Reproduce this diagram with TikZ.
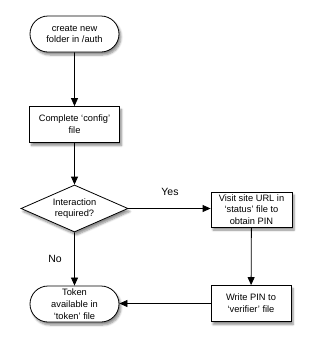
\documentclass[tikz,border=0pt]{standalone}
\usepackage{fontspec}
\setmainfont{Liberation Sans}
\usetikzlibrary{shapes.geometric,shapes.misc,arrows.meta,shadows.blur}
\begin{document}
\begin{tikzpicture}[x=1pt,y=-1pt,
  base/.style={draw=black,line width=0.8pt,fill=white,align=center,
    font=\fontsize{9.3}{11.8}\selectfont,inner sep=0pt,
    blur shadow={shadow xshift=2pt,shadow yshift=-3pt,shadow blur steps=6,shadow opacity=45}},
  terminal/.style={base,rounded rectangle,minimum width=89pt,minimum height=36pt},
  process/.style={base,rectangle,minimum width=90pt,minimum height=36pt},
  decision/.style={base,diamond,aspect=2.3,minimum width=107pt,minimum height=47pt},
  flow/.style={line width=0.8pt,-{Triangle[length=8pt,width=7pt]}},
  lbl/.style={font=\fontsize{10.5}{12}\selectfont}]
\useasboundingbox (0,0) rectangle (321,346);
\node[terminal] (start) at (74.5,34) {create new\\folder in /auth};
\node[process] (config) at (74.5,124.5) {Complete `config'\\file};
\node[decision] (ask) at (74.5,208.5) {Interaction\\required?};
\node[process,minimum width=81pt,minimum height=35pt] (visit) at (251.5,209.5) {Visit site URL in\\`status' file to\\obtain PIN};
\node[process,minimum width=80pt,minimum height=36pt] (write) at (251,303.5) {Write PIN to\\`verifier' file};
\node[terminal] (token) at (74.5,304) {Token\\available in\\`token' file};
\draw[flow] (start) -- (config);
\draw[flow] (config) -- (ask);
\draw[flow] (ask.east) -- (visit.west |- ask.east);
\draw[flow] (visit) -- (write);
\draw[flow] (write.west) -- (token.east |- write.west);
\draw[flow] (ask) -- (token);
\node[lbl] (yes) at (170,192) {Yes};
\node[lbl] (no) at (55,259) {No};
\end{tikzpicture}
\end{document}
